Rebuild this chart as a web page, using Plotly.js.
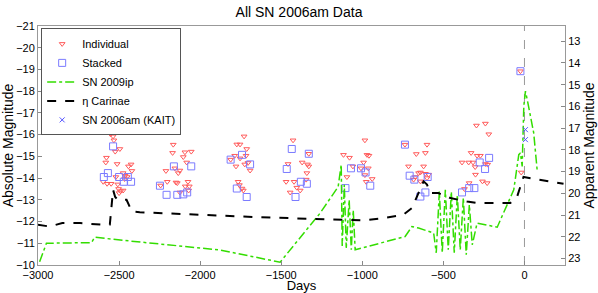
<!DOCTYPE html>
<html>
<head>
<meta charset="utf-8">
<script src="https://cdn.plot.ly/plotly-3.0.1.min.js"></script>
<style>html,body{margin:0;padding:0;background:#fff;}#chart{width:598px;height:293px;}</style>
</head>
<body>
<div id="chart"></div>
<script>
// ---- data (absolute magnitude vs days) ----
const distanceModulus = 33.3;
const peakDay = 0;

const indivDays = [-2553,-2537,-2491,-2532,-2495,-2524,-2578,-2582,-2512,-2442,-2426,-2421,-2475,-2463,-2450,-2520,-2466,-2598,-2574,-2549,-2508,-2503,-2491,-2475,-2500,
  -2166,-2170,-2094,-2055,-2104,-2083,-2156,-2211,-2125,-2135,-2203,-2149,-2141,-2075,-2067,-2092,-2071,-2125,-2244,
  -1729,-1774,-1754,-1713,-1787,-1754,-1717,-1705,-1725,-1779,-1692,-1766,-1758,-1742,-1734,-1812,
  -1427,-1458,-1371,-1338,-1330,-1342,-1346,-1470,-1421,-1445,-1404,-1383,-1330,
  -984,-1116,-1079,-971,-959,-992,-1058,-963,-984,-939,-1095,-976,-1008,
  -737,-601,-611,-667,-715,-622,-642,-653,-611,-591,-673,-684,-642,-601,
  -296,-241,-220,-329,-292,-272,-385,-344,-317,-241,-227,-304,-341,-259,-230,-370,-302,
  -25,-20];
const indivMags = [-16.02,-15.92,-16.14,-15.74,-15.34,-15.22,-14.94,-14.72,-14.65,-14.54,-14.63,-14.33,-14.23,-14.11,-14.05,-14.05,-13.96,-13.83,-13.74,-13.74,-13.71,-13.50,-13.40,-13.43,-13.31,
  -15.54,-15.16,-15.19,-15.22,-14.97,-14.72,-14.45,-14.33,-14.35,-14.23,-13.83,-13.80,-13.77,-13.83,-13.62,-13.62,-13.43,-13.34,-13.66,
  -15.92,-15.55,-15.55,-15.34,-15.03,-14.91,-15.03,-14.70,-14.63,-14.54,-14.35,-13.83,-13.68,-13.52,-13.43,-14.85,
  -15.74,-14.65,-14.72,-14.63,-14.54,-14.23,-13.93,-13.83,-13.83,-13.34,-13.56,-13.43,-15.12,
  -15.74,-15.07,-14.94,-15.07,-15.03,-14.72,-14.54,-14.45,-14.14,-13.96,-14.05,-13.83,-14.45,
  -15.54,-15.54,-15.16,-15.11,-14.54,-14.54,-14.26,-14.23,-14.20,-14.16,-14.05,-13.93,-13.85,-14.00,
  -16.42,-16.51,-16.02,-15.16,-15.03,-15.03,-14.72,-14.72,-14.72,-14.65,-14.62,-14.51,-13.77,-13.85,-13.77,-13.50,-14.16,
  -18.92,-14.26];

const stackDays = [-2537,-2569,-2594,-2500,-2446,-2471,-2426,
  -2162,-2055,-2248,-2207,-2141,-2104,-2080,
  -1742,-1812,-1692,-1774,-1713,
  -1435,-1330,-1466,-1379,-1342,-1412,
  -1070,-1008,-980,-951,-1104,
  -737,-708,-679,-597,-642,-611,
  -218,-276,-243,-341,-309,-385,
  -25];
const stackMags = [-15.46,-14.23,-14.05,-14.05,-14.05,-13.83,-13.83,
  -14.54,-14.54,-13.65,-13.23,-13.23,-13.25,-13.34,
  -15.07,-14.85,-14.63,-13.52,-13.13,
  -15.34,-15.12,-14.42,-13.83,-13.74,-13.13,
  -14.45,-14.45,-14.26,-13.65,-13.54,
  -15.54,-14.11,-13.93,-14.05,-13.15,-13.34,
  -14.93,-14.72,-14.42,-13.54,-13.54,-13.34,
  -18.92];

const ip09Days = [-2990,-2948,-2670,-2650,-2506,-1878,-1507,-1342,-1260,-1149,-1130,-1124,-1111,-1099,-1081,-1068,-1056,-1044,-767,-736,-694,-653,-560,-544,-525,-507,-488,-470,-451,-433,-414,-396,-377,-359,-340,-322,-292,-168,-66,-35,-25,-14,-4,6,17,37,57,78];
const ip09Mags = [-10.15,-11.0,-11.03,-11.28,-11.16,-10.69,-10.13,-11.62,-12.39,-13.6,-14.62,-10.88,-13.69,-10.79,-13.0,-10.7,-12.53,-10.7,-11.28,-11.31,-11.77,-11.70,-11.47,-10.56,-13.38,-10.56,-13.46,-10.70,-13.37,-10.56,-13.23,-10.70,-13.10,-10.47,-12.77,-10.93,-11.93,-11.74,-13.46,-15.08,-15.16,-14.54,-17.31,-18.0,-17.62,-16.85,-16.08,-14.39];

const etaDays = [-3000,-2928,-2850,-2740,-2600,-2557,-2537,-2524,-2508,-2454,-2421,-2372,-1631,-995,-890,-747,-694,-632,-622,-601,-581,-531,-457,-354,-292,-87,-45,-6,241];
const etaMags = [-11.85,-11.77,-11.93,-11.93,-11.85,-11.86,-13.46,-13.13,-13.0,-13.0,-12.46,-12.43,-12.2,-12.05,-12.14,-12.31,-12.62,-13.62,-13.85,-13.70,-13.31,-13.31,-13.08,-12.92,-12.85,-12.85,-13.15,-14.05,-13.74];

const kaitDays = [6,6];
const kaitMags = [-16.23,-15.77];

const xTicks = [-3000,-2500,-2000,-1500,-1000,-500,0];
const yLeftTicks = [-21,-20,-19,-18,-17,-16,-15,-14,-13,-12,-11,-10];
const yRightTicks = [13,14,15,16,17,18,19,20,21,22,23];

const font = 'Liberation Sans, Arial, sans-serif';
const yRange = [-10,-21];

const traces = [
  {x: indivDays, y: indivMags, type:'scatter', mode:'markers', name:'Individual',
   marker:{symbol:'triangle-down-open', size:5, color:'#ff5a5a', line:{width:1}}},
  {x: stackDays, y: stackMags, type:'scatter', mode:'markers', name:'Stacked',
   marker:{symbol:'square-open', size:7, color:'#7b7bff', line:{width:1}}},
  {x: ip09Days, y: ip09Mags, type:'scatter', mode:'lines', name:'SN 2009ip',
   line:{color:'#33dd00', width:1.5, dash:'dashdot'}},
  {x: etaDays, y: etaMags, type:'scatter', mode:'lines', name:'η Carinae',
   line:{color:'#000000', width:2, dash:'dash'}},
  {x: kaitDays, y: kaitMags, type:'scatter', mode:'markers', name:'SN 2006am (KAIT)',
   marker:{symbol:'x-thin-open', size:5, color:'#5555ff', line:{width:1, color:'#5555ff'}}},
  {x:[peakDay], y:[20], yaxis:'y2', type:'scatter', mode:'markers', showlegend:false,
   hoverinfo:'skip', marker:{opacity:0}}
];

const layout = {
  width:598, height:293,
  margin:{l:38, r:33, t:26, b:28},
  paper_bgcolor:'#fff', plot_bgcolor:'#fff',
  font:{family:font, size:11, color:'#000'},
  title:{text:'All SN 2006am Data', font:{family:font, size:14, color:'#000'}, x:0.5, xanchor:'center', y:0.958, yanchor:'middle'},
  showlegend:true,
  legend:{x:0.006, y:0.99, xanchor:'left', yanchor:'top', bgcolor:'#fff', bordercolor:'#555', borderwidth:1,
          font:{family:font, size:11, color:'#000'}, itemwidth:30, tracegroupgap:0},
  xaxis:{range:[-3000,250], tickvals:xTicks, ticks:'inside', ticklen:4, tickcolor:'#888',
         showline:true, linecolor:'#999', linewidth:1, mirror:true, showgrid:false, zeroline:false,
         tickfont:{size:11}, title:{text:'Days', font:{size:13}, standoff:0}},
  yaxis:{range:yRange, tickvals:yLeftTicks, ticks:'inside', ticklen:4, tickcolor:'#888',
         showline:true, linecolor:'#999', linewidth:1, showgrid:false, zeroline:false,
         tickfont:{size:11}, title:{text:'Absolute Magnitude', font:{size:14}, standoff:4}},
  yaxis2:{overlaying:'y', side:'right', range:[yRange[0]+distanceModulus, yRange[1]+distanceModulus],
          tickvals:yRightTicks, ticks:'inside', ticklen:4, tickcolor:'#888',
          showline:true, linecolor:'#999', linewidth:1, showgrid:false, zeroline:false,
          tickfont:{size:11}, title:{text:'Apparent Magnitude', font:{size:14}, standoff:4}},
  shapes:[{type:'line', xref:'x', yref:'paper', x0:peakDay, x1:peakDay, y0:0, y1:1,
           line:{color:'#999', width:1, dash:'dash'}, layer:'below'}]
};

Plotly.newPlot('chart', traces, layout, {displayModeBar:false, staticPlot:true});
</script>
</body>
</html>
